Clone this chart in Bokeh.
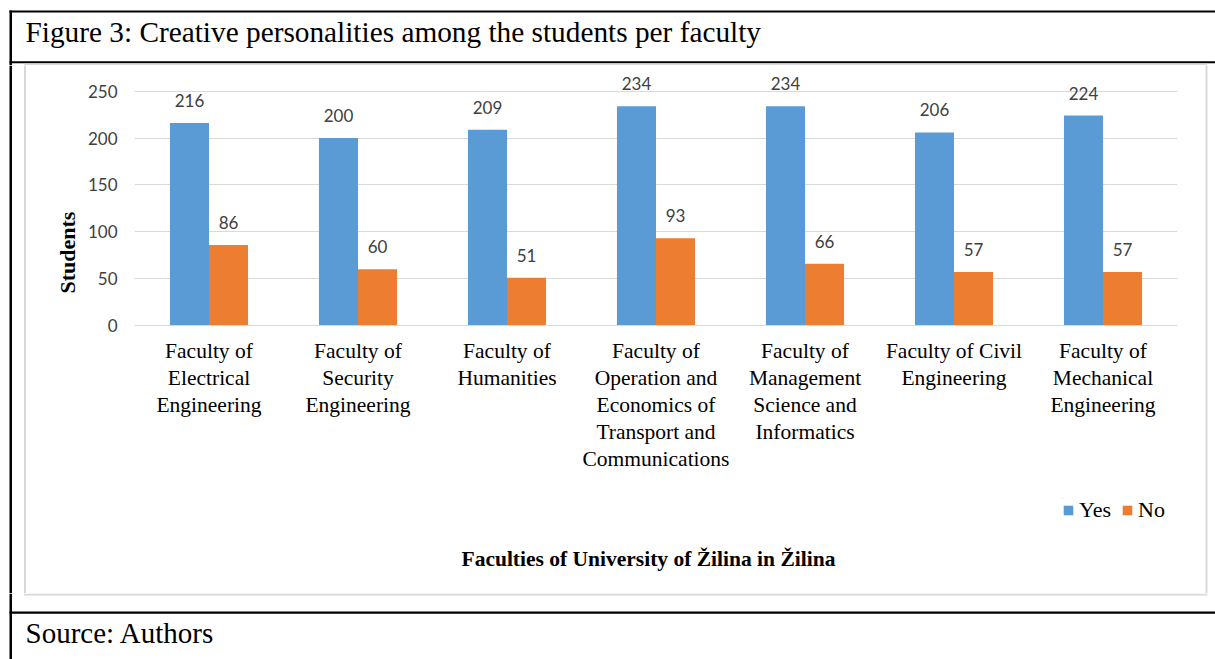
from bokeh.plotting import figure
from bokeh.layouts import column, row
from bokeh.models import (ColumnDataSource, FactorRange, Range1d, Legend, LegendItem,
                          LabelSet, Title, FixedTicker)
from bokeh.transform import dodge
from bokeh.core.properties import value
from bokeh.embed import file_html
from bokeh.resources import INLINE

# ---- data ----
faculties = [
    "Faculty of\nElectrical\nEngineering",
    "Faculty of\nSecurity\nEngineering",
    "Faculty of\nHumanities",
    "Faculty of\nOperation and\nEconomics of\nTransport and\nCommunications",
    "Faculty of\nManagement\nScience and\nInformatics",
    "Faculty of Civil\nEngineering",
    "Faculty of\nMechanical\nEngineering",
]
yes_values = [216, 200, 209, 234, 234, 206, 224]
no_values = [86, 60, 51, 93, 66, 57, 57]
y_ticks = [0, 50, 100, 150, 200, 250]
series_names = ["Yes", "No"]

title_text = "Figure 3: Creative personalities among the students per faculty"
source_text = "Source: Authors"
x_title = "Faculties of University of Žilina in Žilina"
y_title = "Students"

BLUE = "#5B9BD5"
ORANGE = "#ED7D31"
GRID = "#D9D9D9"
SERIF = "Liberation Serif"
SANS = "Lato"
TEXT_GRAY = "#404040"


def strip(w, h):
    f = figure(width=w, height=h, x_range=Range1d(0, w), y_range=Range1d(h, 0),
               output_backend="svg", toolbar_location=None,
               x_axis_location=None, y_axis_location=None, min_border=0)
    f.outline_line_color = None
    f.xgrid.visible = False
    f.ygrid.visible = False
    return f


def bar_line(f, l, r, t, b, color):
    f.quad(left=[l], right=[r], top=[t], bottom=[b], fill_color=color, line_color=None)


# ---- title row (y 0..65) ----
top = strip(1215, 65)
bar_line(top, 9, 1215, 10, 12, "black")
bar_line(top, 9, 11.5, 10, 65, "black")
bar_line(top, 9, 1215, 60.7, 62.7, "black")
bar_line(top, 23.5, 1207, 63.3, 65, GRID)
top.text(x=[25], y=[31], text=[title_text], text_font=value(SERIF), text_font_size="29.3px",
         text_baseline="middle", text_align="left", text_color="black")

# ---- side strips (y 65..593) ----
H_MID = 528
left = strip(26, H_MID)
bar_line(left, 9, 11.5, 0, H_MID, "black")
bar_line(left, 23.5, 25.5, 0, H_MID, GRID)
right = strip(11, H_MID)
bar_line(right, 1, 3, 0, H_MID, GRID)

# ---- bottom row (y 593..659) ----
bot = strip(1215, 66)
bar_line(bot, 23.5, 1207, 0, 2, GRID)
bar_line(bot, 9, 11.5, 0, 66, "black")
bar_line(bot, 9, 1215, 18, 20.3, "black")
bot.text(x=[25], y=[39], text=[source_text], text_font=value(SERIF), text_font_size="29px",
         text_baseline="middle", text_align="left", text_color="black")

# ---- main chart (image y 65..485) ----
H_MAIN = 420
src = ColumnDataSource(dict(
    fac=faculties, yes=yes_values, no=no_values,
    yes_txt=[str(v) for v in yes_values], no_txt=[str(v) for v in no_values],
))

p = figure(x_range=FactorRange(*faculties), y_range=Range1d(0, 273.2),
           width=1178, height=H_MAIN, output_backend="svg", toolbar_location=None,
           min_border_left=108, min_border_right=27, min_border_top=4, min_border_bottom=160)
p.outline_line_color = None
p.xgrid.grid_line_color = None
p.ygrid.grid_line_color = GRID
p.ygrid.grid_line_width = 1
p.x_range.range_padding = 0

OFF = 0.131
W = 0.262
p.vbar(x=dodge("fac", -OFF, range=p.x_range), top="yes", width=W, source=src,
       fill_color=BLUE, line_color=None)
p.vbar(x=dodge("fac", OFF, range=p.x_range), top="no", width=W, source=src,
       fill_color=ORANGE, line_color=None)

for ycol, tcol, off in (("yes", "yes_txt", -OFF), ("no", "no_txt", OFF)):
    p.add_layout(LabelSet(x=dodge("fac", off, range=p.x_range), y=ycol, text=tcol, source=src,
                          text_align="center", text_baseline="alphabetic", y_offset=16,
                          text_font=value(SANS), text_font_size="17px", text_color=TEXT_GRAY))

p.yaxis.ticker = FixedTicker(ticks=y_ticks)
p.yaxis.axis_line_color = None
p.yaxis.major_tick_line_color = None
p.yaxis.minor_tick_line_color = None
p.yaxis.major_tick_out = 0
p.yaxis.major_tick_in = 0
p.yaxis.major_label_standoff = 17
p.yaxis.major_label_text_font = SANS
p.yaxis.major_label_text_font_size = "17px"
p.yaxis.major_label_text_color = TEXT_GRAY

p.xaxis.axis_line_color = GRID
p.xaxis.major_tick_line_color = None
p.xaxis.minor_tick_line_color = None
p.xaxis.major_tick_out = 0
p.xaxis.major_tick_in = 0
p.xaxis.major_label_text_font = SERIF
p.xaxis.major_label_text_font_size = "21.5px"
p.xaxis.major_label_text_color = "black"
p.xaxis.major_label_text_line_height = 1.13
p.xaxis.major_label_standoff = 13

p.add_layout(Title(text=y_title, align="left", offset=32, text_font=SERIF,
                   text_font_size="22px", text_font_style="bold", text_color="black"), "left")

# ---- x title (image x 26..1062, y 485..593) ----
H_LEG = H_MID - H_MAIN
xt = strip(1036, H_LEG)
xt.text(x=[435], y=[73], text=[x_title], text_font=value(SERIF), text_font_size="21.5px",
        text_font_style="bold", text_baseline="middle", text_align="left", text_color="black")

# ---- legend (image x 1062..1204, y 497..593) ----
SP = 12
sp = strip(142, SP)
lg = strip(142, H_LEG - SP)
# off-screen proxy glyphs that only carry the legend swatch styles
ly = lg.vbar(x=[-500], top=[1], width=1, fill_color=BLUE, line_color=None)
ln = lg.vbar(x=[-500], top=[1], width=1, fill_color=ORANGE, line_color=None)
legend = Legend(items=[LegendItem(label=series_names[0], renderers=[ly]),
                       LegendItem(label=series_names[1], renderers=[ln])],
                location="top_left", orientation="horizontal",
                glyph_width=12, glyph_height=12, label_standoff=5, spacing=10,
                padding=0, margin=0, border_line_color=None, background_fill_alpha=0,
                label_text_font=SERIF, label_text_font_size="22px", label_height=22,
                label_text_color="black")
lg.add_layout(legend, "center")

mid = column(p, row(xt, column(sp, lg)))
layout = column(top, row(left, mid, right), bot)
open("out.html", "w").write(file_html(layout, INLINE))
